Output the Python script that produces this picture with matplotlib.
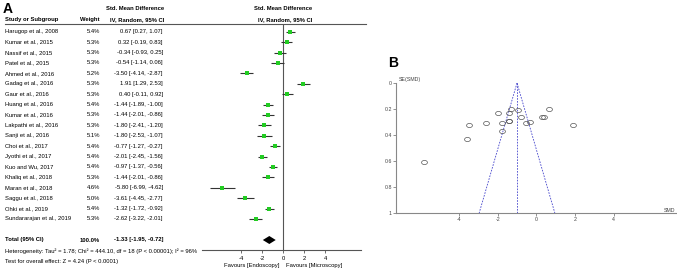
#!/usr/bin/env python3
"""
Forest plot (A) and funnel plot (B): endoscopy vs microscopy, standardised mean difference.
"""

import matplotlib
matplotlib.use("Agg")
import matplotlib.pyplot as plt
from matplotlib.path import Path
from matplotlib.transforms import Affine2D

plt.rcParams['font.family'] = ['Liberation Sans', 'DejaVu Sans']

# study table
studies = ["Harugop et al., 2008", "Kumar et al., 2015", "Nassif et al., 2015", "Patel et al., 2015",
           "Ahmed et al., 2016", "Gadag et al., 2016", "Gaur et al., 2016", "Huang et al., 2016",
           "Kumar et al., 2016", "Lakpathi et al., 2016", "Sanji et al., 2016", "Choi et al., 2017",
           "Jyothi et al., 2017", "Kuo and Wu, 2017", "Khaliq et al., 2018", "Maran et al., 2018",
           "Saggu et al., 2018", "Ohki et al., 2019", "Sundararajan et al., 2019"]
weights = [5.4, 5.3, 5.3, 5.3, 5.2, 5.3, 5.3, 5.4, 5.3, 5.3, 5.1, 5.4, 5.4, 5.4, 5.3, 4.6, 5.0, 5.4, 5.3]
smd = [0.67, 0.32, -0.34, -0.54, -3.50, 1.91, 0.40, -1.44, -1.44, -1.80, -1.80, -0.77,
       -2.01, -0.97, -1.44, -5.80, -3.61, -1.32, -2.62]
ci_low = [0.27, -0.19, -0.93, -1.14, -4.14, 1.29, -0.11, -1.89, -2.01, -2.41, -2.53, -1.27,
          -2.45, -1.37, -2.01, -6.99, -4.45, -1.72, -3.22]
ci_high = [1.07, 0.83, 0.25, 0.06, -2.87, 2.53, 0.92, -1.00, -0.86, -1.20, -1.07, -0.27,
           -1.56, -0.56, -0.86, -4.62, -2.77, -0.92, -2.01]

# standard errors
se = [0.20, 0.26, 0.30, 0.31, 0.32, 0.32, 0.26, 0.23, 0.29, 0.31, 0.37, 0.26,
      0.23, 0.21, 0.29, 0.61, 0.43, 0.20, 0.31]

total_est, total_low, total_high = -1.33, -1.95, -0.72
funnel_center = -1.0

forest_ticks = [-4, -2, 0, 2, 4]
funnel_xticks = [-4, -2, 0, 2, 4]
funnel_yticks = [0, 0.2, 0.4, 0.6, 0.8, 1]

W, H = 677, 270
fig = plt.figure(figsize=(W / 100, H / 100), dpi=100)


def px_axes(x0, y0, x1, y1):
    # axes placed in pixel coordinates (y measured from the top)
    return fig.add_axes([x0 / W, 1 - y1 / H, (x1 - x0) / W, (y1 - y0) / H])


# text layer covering the whole figure, pixel coordinates
tab = px_axes(0, 0, W, H)
tab.set_xlim(0, W)
tab.set_ylim(H, 0)
tab.axis('off')

fs = 4.2
row0, row_step = 31.7, 10.4
rows = [row0 + i * row_step for i in range(len(studies))]
total_y = 240

tab.text(3, 9, "A", fontsize=10, fontweight='bold', va='center', ha='left')
tab.text(135, 9, "Std. Mean Difference", fontsize=fs, fontweight='bold', ha='center', va='center')
tab.text(5, 20, "Study or Subgroup", fontsize=fs, fontweight='bold', ha='left', va='center')
tab.text(100, 20, "Weight", fontsize=fs, fontweight='bold', ha='right', va='center')
tab.text(137, 20, "IV, Random, 95% CI", fontsize=fs, fontweight='bold', ha='center', va='center')
tab.text(283, 9, "Std. Mean Difference", fontsize=fs, fontweight='bold', ha='center', va='center')
tab.text(285, 20, "IV, Random, 95% CI", fontsize=fs, fontweight='bold', ha='center', va='center')
tab.plot([5, 366], [24, 24], color='#555555', lw=0.8)

for y, name, w, m, lo, hi in zip(rows, studies, weights, smd, ci_low, ci_high):
    tab.text(5, y, name, fontsize=fs, ha='left', va='center')
    tab.text(100, y, f"{w:.1f}%", fontsize=fs, ha='right', va='center')
    tab.text(163, y, f"{m:.2f} [{lo:.2f}, {hi:.2f}]", fontsize=fs, ha='right', va='center')

tab.text(5, total_y, "Total (95% CI)", fontsize=fs, fontweight='bold', ha='left', va='center')
tab.text(100, total_y, "100.0%", fontsize=fs, fontweight='bold', ha='right', va='center')
tab.text(163, total_y, f"{total_est:.2f} [{total_low:.2f}, {total_high:.2f}]",
         fontsize=fs, fontweight='bold', ha='right', va='center')
tab.text(5, 251, "Heterogeneity: Tau\u00b2 = 1.78; Chi\u00b2 = 444.10, df = 18 (P < 0.00001); I\u00b2 = 96%",
         fontsize=fs, ha='left', va='center')
tab.text(5, 261, "Test for overall effect: Z = 4.24 (P < 0.0001)", fontsize=fs, ha='left', va='center')
tab.text(280, 266, "Favours [Endoscopy]", fontsize=fs, ha='right', va='center')
tab.text(286, 266, "Favours [Microscopy]", fontsize=fs, ha='left', va='center')

# forest plot
fp = px_axes(202, 24, 361, 250)
fp.set_xlim(-7.74, 7.4)
fp.set_ylim(250, 24)
fp.patch.set_alpha(0)
for s in ['top', 'left', 'right']:
    fp.spines[s].set_visible(False)
fp.spines['bottom'].set_color('#555555')
fp.spines['bottom'].set_linewidth(0.8)
fp.axvline(0, color='#555555', lw=0.8)
fp.hlines(rows, ci_low, ci_high, color='#333333', lw=0.8)
fp.plot(smd, rows, 's', color='#22cc22', markersize=2.2, markeredgewidth=0)
fp.fill([total_low, total_est, total_high, total_est],
        [total_y, total_y - 4, total_y, total_y + 4], color='black', lw=0)
fp.set_xticks(forest_ticks)
fp.set_xticklabels([str(t) for t in forest_ticks])
fp.set_yticks([])
fp.tick_params(axis='x', labelsize=fs, length=2.5, width=0.6, color='#555555', pad=1.5)

# funnel plot
tab.text(388, 63, "B", fontsize=10, fontweight='bold', ha='left', va='center')
fn = px_axes(396, 83, 677, 213)
fn.set_xlim(-7.27, 7.29)
fn.set_ylim(1, 0)
fn.patch.set_alpha(0)
for s in ['top', 'right']:
    fn.spines[s].set_visible(False)
for s in ['left', 'bottom']:
    fn.spines[s].set_color('#888888')
    fn.spines[s].set_linewidth(0.8)
dash = (0, (2, 1.5))
fn.plot([funnel_center, funnel_center - 1.96], [0, 1], ls=dash, color='#4444cc', lw=0.6)
fn.plot([funnel_center, funnel_center + 1.96], [0, 1], ls=dash, color='#4444cc', lw=0.6)
fn.plot([funnel_center, funnel_center], [0, 1], ls=dash, color='#4444cc', lw=0.6)
oval = Path.unit_circle().transformed(Affine2D().scale(1.0, 0.72))
fn.plot(smd, se, linestyle='none', marker=oval, markerfacecolor='none', markeredgecolor='#555555',
        markersize=4.2, markeredgewidth=0.5)
fn.set_xticks(funnel_xticks)
fn.set_xticklabels([str(t) for t in funnel_xticks])
fn.set_yticks(funnel_yticks)
fn.set_yticklabels(["0", "0.2", "0.4", "0.6", "0.8", "1"])
fn.tick_params(labelsize=3.8, length=2, width=0.5, color='#666666', pad=1, labelcolor='#444444')
tab.text(399, 80, "SE(SMD)", fontsize=3.8, color='#444444', ha='left', va='center')
tab.text(675, 210, "SMD", fontsize=3.8, color='#444444', ha='right', va='center')

fig.savefig("out.png", dpi=100)
